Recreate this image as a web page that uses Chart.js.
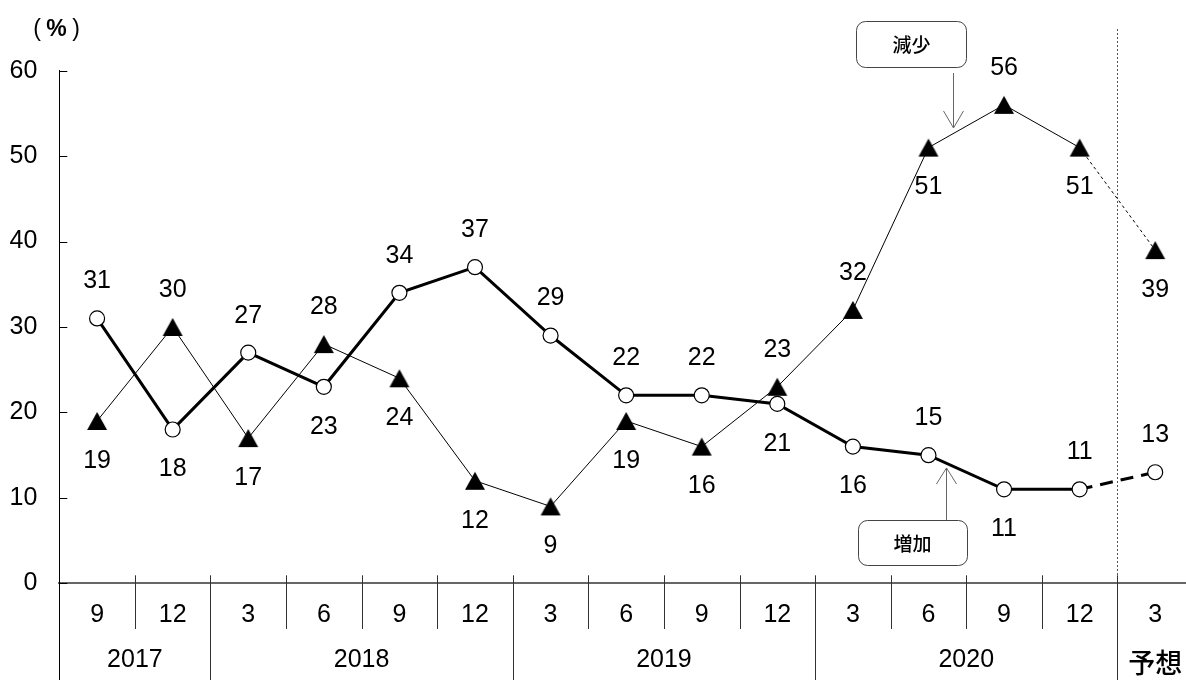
<!DOCTYPE html>
<html>
<head>
<meta charset="UTF-8">
<title></title>
<style>
  html, body { margin: 0; padding: 0; overflow: hidden; background: #fff; }
  #myChart { display: block; }
</style>
</head>
<body>
<canvas id="myChart" width="1193" height="680"></canvas>
<script src="https://cdn.jsdelivr.net/npm/chart.js@4.4.0/dist/chart.umd.min.js"></script>
<script>
// 月（下段）と年（上段）の見出し
var months = ['9', '12', '3', '6', '9', '12', '3', '6', '9', '12', '3', '6', '9', '12', '3'];
var years = ['2017', '2018', '2019', '2020', '予想'];
var yearSpans = [2, 4, 4, 4, 1];

// 増加（○）・減少（▲）の割合 %
var increase = [31, 18, 27, 23, 34, 37, 29, 22, 22, 21, 16, 15, 11, 11, 13];
var decrease = [19, 30, 17, 28, 24, 12, 9, 19, 16, 23, 32, 51, 56, 51, 39];

// 数値ラベルを点の上(u)か下(d)のどちらに置くか
var increaseSide = ['u','d','u','d','u','u','u','u','u','d','d','u','d','u','u'];
var decreaseSide = ['d','u','d','u','d','d','d','d','d','u','u','d','u','d','d'];

var forecastIndex = 14;   // 最後の点が予想
var yMax = 60;

var numFont = "'Liberation Sans', Arial, sans-serif";
var jpFont = "'Noto Sans CJK JP', 'Noto Sans', sans-serif";
var numSize = 25;

// ▲マーカー（画像で中心合わせ）
var tri = document.createElement('canvas');
tri.width = 22; tri.height = 20;
var tc = tri.getContext('2d');
tc.beginPath();
tc.moveTo(11, 1); tc.lineTo(21, 19); tc.lineTo(1, 19); tc.closePath();
tc.fillStyle = '#000';
tc.fill();

function line(ctx, x1, y1, x2, y2) {
  ctx.beginPath(); ctx.moveTo(x1, y1); ctx.lineTo(x2, y2); ctx.stroke();
}
function roundBox(ctx, x, y, w, h, r) {
  ctx.beginPath();
  ctx.moveTo(x + r, y);
  ctx.lineTo(x + w - r, y); ctx.arcTo(x + w, y, x + w, y + r, r);
  ctx.lineTo(x + w, y + h - r); ctx.arcTo(x + w, y + h, x + w - r, y + h, r);
  ctx.lineTo(x + r, y + h); ctx.arcTo(x, y + h, x, y + h - r, r);
  ctx.lineTo(x, y + r); ctx.arcTo(x, y, x + r, y, r);
  ctx.closePath();
}

function boundary(xs, i) {
  return (xs.getPixelForValue(i - 1) + xs.getPixelForValue(i)) / 2;
}

var decor = {
  id: 'decor',
  beforeDatasetsDraw: function (chart) {
    var ctx = chart.ctx, a = chart.chartArea, xs = chart.scales.x;
    var bx = Math.round(boundary(xs, forecastIndex)) + 0.5;
    ctx.save();
    ctx.strokeStyle = '#555';
    ctx.lineWidth = 1;
    ctx.setLineDash([2, 2]);
    line(ctx, bx, 29, bx, a.bottom);
    ctx.restore();
  },
  afterDatasetsDraw: function (chart) {
    var ctx = chart.ctx;
    ctx.save();
    ctx.fillStyle = '#000';
    ctx.font = numSize + 'px ' + numFont;
    ctx.textAlign = 'center';
    ctx.textBaseline = 'middle';
    [[0, increase, increaseSide], [1, decrease, decreaseSide]].forEach(function (d) {
      var meta = chart.getDatasetMeta(d[0]);
      meta.data.forEach(function (p, i) {
        var dy = d[2][i] === 'u' ? -37 : 40;
        ctx.fillText(String(d[1][i]), p.x, p.y + dy);
      });
    });
    ctx.restore();
  },
  afterDraw: function (chart) {
    var ctx = chart.ctx, a = chart.chartArea, xs = chart.scales.x, ys = chart.scales.y;
    var H = chart.height;
    ctx.save();
    ctx.strokeStyle = '#000';
    ctx.lineWidth = 1;

    // y軸の目盛（内向き）
    ys.ticks.forEach(function (t) {
      var py = Math.round(ys.getPixelForValue(t.value)) + 0.5;
      line(ctx, a.left, py, a.left + 8, py);
    });
    // y軸を表の下まで延長
    var lx = Math.round(a.left) + 0.5;
    line(ctx, lx, a.bottom, lx, H);

    // 表の区切り線
    var yearEdges = [];
    var acc = 0;
    yearSpans.forEach(function (s) { acc += s; yearEdges.push(acc); });
    ctx.strokeStyle = '#333';
    for (var i = 1; i < months.length; i++) {
      var bx = Math.round(boundary(xs, i)) + 0.5;
      var long = yearEdges.indexOf(i) >= 0;
      line(ctx, bx, a.bottom - 8, bx, long ? H : 629);
    }

    // 年の見出し
    ctx.fillStyle = '#000';
    ctx.textAlign = 'center';
    ctx.textBaseline = 'middle';
    var start = 0;
    years.forEach(function (y, k) {
      var end = start + yearSpans[k] - 1;
      var cx = (xs.getPixelForValue(start) + xs.getPixelForValue(end)) / 2;
      ctx.font = (/^\d+$/.test(y) ? numSize + 'px ' + numFont : '500 27px ' + jpFont);
      ctx.fillText(y, cx, /^\d+$/.test(y) ? 660 : 663);
      start = end + 1;
    });

    // 単位
    ctx.font = '23px ' + numFont;
    ctx.fillText('(', 37, 30);
    ctx.fillText(')', 76, 30);
    ctx.font = 'bold 23px ' + numFont;
    ctx.fillText('%', 56.5, 30);

    // 吹き出し：減少
    var w = xs.getPixelForValue(1) - xs.getPixelForValue(0);
    var ax1 = Math.round(xs.getPixelForValue(11) + 0.33 * w) + 0.5;
    var tip1 = ys.getPixelForValue(53.3);
    ctx.strokeStyle = '#444';
    ctx.lineWidth = 1;
    roundBox(ctx, ax1 - 97, 21.5, 110, 46, 9);
    ctx.fillStyle = '#fff'; ctx.fill(); ctx.stroke();
    ctx.fillStyle = '#000';
    ctx.font = '500 19px ' + jpFont;
    ctx.fillText('減少', ax1 - 42, 44.5);
    ctx.strokeStyle = '#666';
    line(ctx, ax1, 73, ax1, tip1);
    line(ctx, ax1 - 10, tip1 - 17, ax1, tip1);
    line(ctx, ax1 + 10, tip1 - 17, ax1, tip1);

    // 吹き出し：増加
    var ax2 = Math.round(xs.getPixelForValue(11) + 0.23 * w) + 0.5;
    var tip2 = ys.getPixelForValue(13.5);
    ctx.strokeStyle = '#444';
    roundBox(ctx, ax2 - 88, 520.5, 109, 45, 9);
    ctx.fillStyle = '#fff'; ctx.fill(); ctx.stroke();
    ctx.fillStyle = '#000';
    ctx.fillText('増加', ax2 - 34, 543.5);
    ctx.strokeStyle = '#666';
    line(ctx, ax2, 520, ax2, tip2);
    line(ctx, ax2 - 10, tip2 + 16, ax2, tip2);
    line(ctx, ax2 + 10, tip2 + 16, ax2, tip2);

    ctx.restore();
  }
};

function forecastDash(dash) {
  return function (c) { return c.p1DataIndex === forecastIndex ? dash : undefined; };
}

var ctx = document.getElementById('myChart').getContext('2d');
var chart = new Chart(ctx, {
  type: 'line',
  data: {
    labels: months,
    datasets: [
      {
        label: '増加',
        data: increase,
        borderColor: '#000',
        borderWidth: 3,
        pointStyle: 'circle',
        pointRadius: 7.5,
        pointBorderWidth: 1.2,
        pointBackgroundColor: '#fff',
        pointBorderColor: '#000',
        tension: 0,
        segment: { borderDash: forecastDash([13, 8]) }
      },
      {
        label: '減少',
        data: decrease,
        borderColor: '#000',
        borderWidth: 1,
        pointStyle: tri,
        pointRadius: 10,
        tension: 0,
        segment: { borderDash: forecastDash([3, 3]) }
      }
    ]
  },
  options: {
    responsive: false,
    animation: false,
    events: [],
    layout: { autoPadding: false, padding: { top: 70.7, left: 0, right: 0, bottom: 0 } },
    plugins: {
      legend: { display: false },
      tooltip: { enabled: false }
    },
    scales: {
      x: {
        type: 'category',
        offset: true,
        grid: { display: false, drawTicks: false },
        border: { display: true, color: '#666', width: 2 },
        ticks: {
          color: '#000',
          font: { family: numFont, size: numSize },
          padding: 17,
          autoSkip: false,
          maxRotation: 0
        },
        afterFit: function (s) { s.height = 96.7; }
      },
      y: {
        min: 0,
        max: yMax,
        grid: { display: false, drawTicks: false },
        border: { display: true, color: '#000', width: 1 },
        ticks: {
          stepSize: 10,
          color: '#000',
          font: { family: numFont, size: numSize },
          padding: 22
        },
        afterFit: function (s) { s.width = 59.3; }
      }
    }
  },
  plugins: [decor]
});
</script>
</body>
</html>
